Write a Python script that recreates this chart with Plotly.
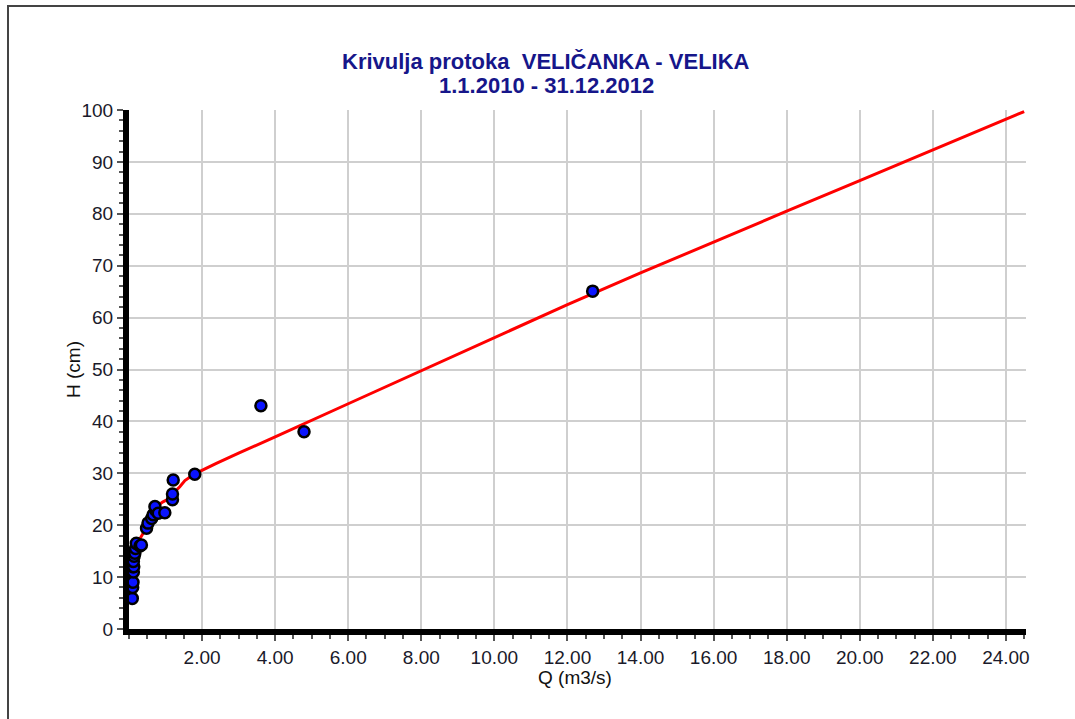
import plotly.graph_objects as go

# Measured discharge (Q, m3/s) and water level (H, cm)
q_meas = [0.09, 0.10, 0.11, 0.12, 0.11, 0.13, 0.12, 0.14, 0.16, 0.18, 0.20, 0.30, 0.34,
          0.48, 0.52, 0.62, 0.66, 0.73, 0.71, 0.80, 0.98, 1.19, 1.19, 1.21, 1.80,
          3.61, 4.79, 12.69]
h_meas = [5.9, 8.0, 9.0, 11.0, 12.0, 12.0, 13.0, 14.0, 14.6, 15.5, 16.5, 16.0, 16.2,
          19.4, 20.4, 21.3, 22.0, 22.9, 23.6, 22.3, 22.4, 24.9, 26.0, 28.7, 29.8,
          43.0, 38.0, 65.1]

# Rating curve Q(H)
q_curve = [0.06, 0.09, 0.12, 0.16, 0.25, 0.39, 0.65, 0.75, 0.93, 1.12, 1.21, 1.39, 1.53,
           1.80, 2.00, 2.39, 3.00, 4.00, 6.00, 8.00, 10.00, 12.00, 14.00, 16.00, 18.00,
           20.00, 22.00, 24.00, 24.50]
h_curve = [6.0, 9.0, 12.0, 14.5, 16.8, 18.4, 21.6, 23.6, 24.5, 25.2, 26.1, 27.4, 28.6,
           29.9, 30.6, 31.9, 33.9, 37.0, 43.4, 49.8, 56.2, 62.5, 68.6, 74.6, 80.5,
           86.4, 92.3, 98.2, 99.7]

x_ticks = [2, 4, 6, 8, 10, 12, 14, 16, 18, 20, 22, 24]
x_tick_labels = ["2.00", "4.00", "6.00", "8.00", "10.00", "12.00", "14.00", "16.00",
                 "18.00", "20.00", "22.00", "24.00"]
y_ticks = [0, 10, 20, 30, 40, 50, 60, 70, 80, 90, 100]

title_lines = ["Krivulja protoka  VELIČANKA - VELIKA", "1.1.2010 - 31.12.2012"]

fig = go.Figure()
fig.add_trace(go.Scatter(x=q_curve, y=h_curve, mode="lines",
                         line=dict(color="#ff0000", width=3), hoverinfo="skip"))
fig.add_trace(go.Scatter(x=q_meas, y=h_meas, mode="markers",
                         marker=dict(color="#0a14ff", size=11,
                                     line=dict(color="#000000", width=2.5))))

L, R, T, B = 129, 49, 110, 90
W, H = 1075, 719
pw, ph = W - L - R, H - T - B

fig.update_layout(
    width=W, height=H,
    margin=dict(l=L, r=R, t=T, b=B),
    paper_bgcolor="white", plot_bgcolor="white",
    showlegend=False,
    font=dict(family="Liberation Sans, Arial, sans-serif", color="#1a1a1a"),
)
fig.update_xaxes(
    range=[0, 24.55], tickvals=x_ticks, ticktext=x_tick_labels,
    showline=True, linecolor="#000000", linewidth=6,
    showgrid=True, gridcolor="#cfcfcf", gridwidth=2, zeroline=False,
    ticks="outside", ticklen=6, tickwidth=2, tickcolor="#555555",
    tickfont=dict(size=19, color="#1a1a2a"),
    minor=dict(dtick=0.5, tick0=0, ticks="outside", ticklen=4, tickwidth=2,
               tickcolor="#555555", showgrid=False),
)
fig.update_yaxes(
    range=[0, 100], tickvals=y_ticks,
    showline=True, linecolor="#000000", linewidth=6,
    showgrid=True, gridcolor="#cfcfcf", gridwidth=2, zeroline=False,
    ticks="outside", ticklen=6, tickwidth=2, tickcolor="#555555",
    tickfont=dict(size=19, color="#1a1a2a"),
    minor=dict(dtick=2, tick0=0, ticks="outside", ticklen=4, tickwidth=2,
               tickcolor="#555555", showgrid=False),
)

def px_x(p):
    return (p - L) / pw

def px_y(p):
    return (H - B - p) / ph

# Outer frame (left and top edges)
fig.add_shape(type="rect", xref="paper", yref="paper",
              x0=px_x(8), x1=px_x(1090), y0=px_y(735), y1=px_y(6),
              line=dict(color="#444444", width=2), fillcolor="rgba(0,0,0,0)")

for line_text, ypix in zip(title_lines, [61, 85]):
    fig.add_annotation(text=f"<b>{line_text}</b>", xref="paper", yref="paper",
                       x=px_x(546), y=px_y(ypix), showarrow=False,
                       xanchor="center", yanchor="middle",
                       font=dict(size=22, color="#16168a"))

fig.add_annotation(text="H (cm)", xref="paper", yref="paper", x=px_x(73), y=px_y(370),
                   showarrow=False, textangle=-90, xanchor="center", yanchor="middle",
                   font=dict(size=19, color="#111111"))
fig.add_annotation(text="Q (m3/s)", xref="paper", yref="paper", x=px_x(575), y=px_y(677),
                   showarrow=False, xanchor="center", yanchor="middle",
                   font=dict(size=19, color="#111111"))

fig.write_html("out.html")
